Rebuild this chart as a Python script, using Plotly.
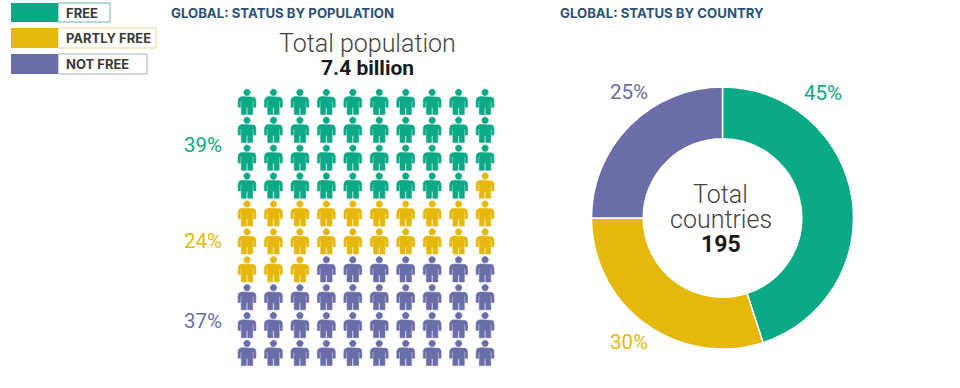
import math
import plotly.graph_objects as go

W, H = 960, 388
statuses = ["FREE", "PARTLY FREE", "NOT FREE"]
colors = ["#0BA985", "#E6B80C", "#6A6DA8"]
population_people = [39, 24, 37]
population_labels = ["39%", "24%", "37%"]
country_share = [45, 30, 25]
country_labels = ["45%", "30%", "25%"]
n_cols, n_rows = 10, 10

# pictogram grid in px
COL0, COLSTEP = 247.0, 26.45
ROW0, ROWSTEP = 102.0, 27.9

BODY = [(-4.5,-5.4),(4.5,-5.4),(7,-4.8),(8.4,-3.6),(8.9,-1.5),(8.9,5.2),(6.6,5.2),(6.6,-1),(5.7,-1),(5.7,12.5),(0.7,12.5),(0.7,5.5),
        (-0.7,5.5),(-0.7,12.5),(-5.7,12.5),(-5.7,-1),(-6.6,-1),(-6.6,5.2),(-8.9,5.2),(-8.9,-1.5),(-8.4,-3.6),(-7,-4.8)]
HEAD = [(3.3*math.cos(i/16*2*math.pi), -9.6+3.3*math.sin(i/16*2*math.pi)) for i in range(16)]

def person(c, r):
    xs, ys = [], []
    for part in (BODY, HEAD):
        pts = part + part[:1]
        xs += [c + p[0]/COLSTEP for p in pts] + [None]
        ys += [r + p[1]/ROWSTEP for p in pts] + [None]
    return xs, ys

fig = go.Figure()
seq = [i for i, n in enumerate(population_people) for _ in range(n)]
for k, name in enumerate(statuses):
    xs, ys = [], []
    for idx, s in enumerate(seq):
        if s == k:
            r, c = divmod(idx, n_cols)
            a, b = person(c, r)
            xs += a; ys += b
    fig.add_trace(go.Scatter(x=xs, y=ys, mode="lines", fill="toself", fillcolor=colors[k],
                             line=dict(color=colors[k], width=0.6), name=name, showlegend=False,
                             hoverinfo="skip"))

fig.add_trace(go.Pie(labels=statuses, values=country_share, hole=0.605, sort=False,
                     direction="clockwise", rotation=0, textinfo="none", showlegend=False,
                     marker=dict(colors=colors, line=dict(color="white", width=1.5)),
                     domain=dict(x=[591/W, 854/W], y=[1-349/H, 1-87/H])))

FONT = "Roboto"
def text(x, y, s, size, color, weight=400, anchor="center", family=FONT):
    fig.add_annotation(x=x/W, y=1-y/H, xref="paper", yref="paper", text=s, showarrow=False,
                       xanchor=anchor, yanchor="middle", borderpad=0,
                       font=dict(family=family, size=size, color=color, weight=weight))

# legend
legend_y = [(3, 22, 110), (28, 48, 156), (54, 74, 147)]
edge = ["#6FB8B0", "#EBD98A", "#A9A9B5"]
for k, (y0, y1, x1) in enumerate(legend_y):
    fig.add_shape(type="rect", xref="paper", yref="paper", x0=58/W, x1=x1/W, y0=1-y0/H, y1=1-y1/H,
                  line=dict(color=edge[k], width=1), fillcolor="white")
    fig.add_shape(type="rect", xref="paper", yref="paper", x0=11/W, x1=58/W, y0=1-y0/H, y1=1-y1/H,
                  line=dict(width=0), fillcolor=colors[k])
    text(65, (y0+y1)/2+0.5, statuses[k], 13, "#3A3A3A", 700, "left", "Inter")

navy = "#2B5079"
text(170, 13.5, "GLOBAL: STATUS BY POPULATION", 13.2, navy, 700, "left", "Inter")
text(559, 13, "GLOBAL: STATUS BY COUNTRY", 13.2, navy, 700, "left", "Inter")
text(367, 43, "Total population", 25, "#444444", 300)
text(367, 68, "7.4 billion", 21, "#1A1A1A", 700)
for k, y in enumerate([145, 241, 321]):
    text(203, y, population_labels[k], 20.5, colors[k])
for k, (x, y) in enumerate([(823, 93), (629, 342), (629, 92)]):
    text(x, y, country_labels[k], 20.5, colors[k])
text(720, 194, "Total", 25, "#444444", 300)
text(721, 219, "countries", 25, "#444444", 300)
text(721, 244, "195", 23, "#1A1A1A", 700)

fig.update_layout(width=W, height=H, margin=dict(l=0, r=0, t=0, b=0), paper_bgcolor="white",
                  plot_bgcolor="white", autosize=False,
                  xaxis=dict(domain=[(COL0-COLSTEP/2)/W, (COL0+COLSTEP*(n_cols-0.5))/W],
                             range=[-0.5, n_cols-0.5], visible=False, fixedrange=True),
                  yaxis=dict(domain=[1-(ROW0+ROWSTEP*(n_rows-0.5))/H, 1-(ROW0-ROWSTEP/2)/H],
                             range=[n_rows-0.5, -0.5], visible=False, fixedrange=True))
fig.write_html("out.html", config=dict(displayModeBar=False),
               post_script="document.body.style.margin='0';")
